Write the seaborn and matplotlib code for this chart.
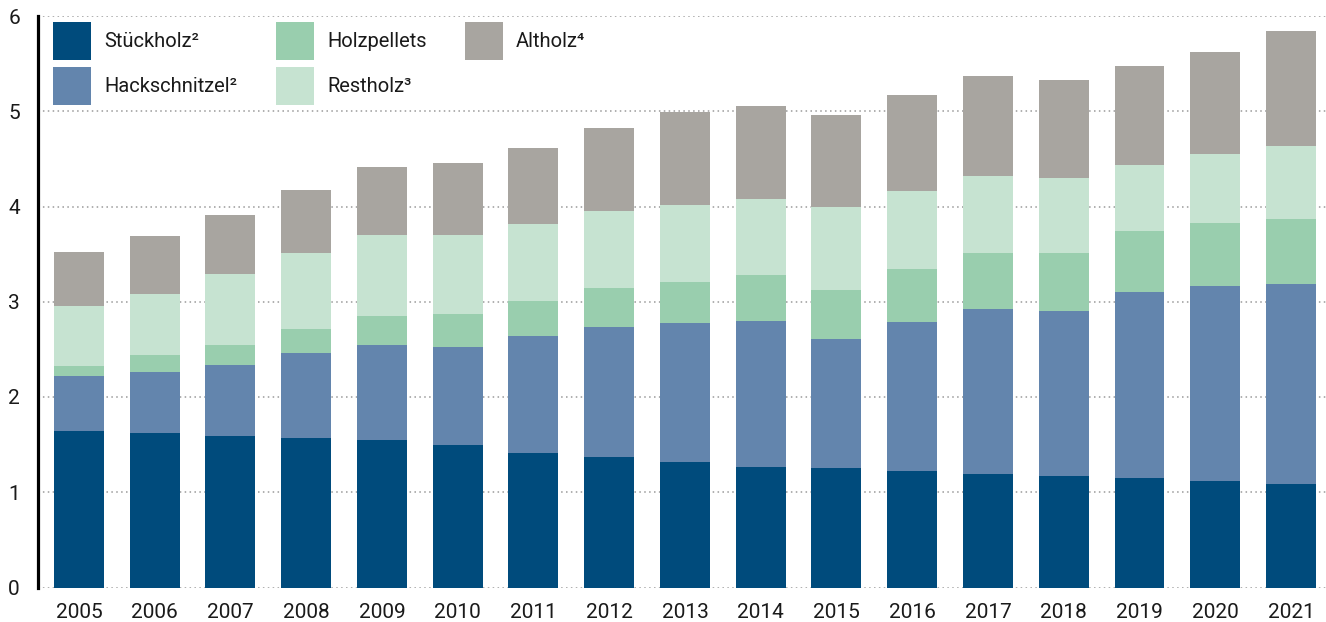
import numpy as np
import pandas as pd
import matplotlib
matplotlib.use("Agg")
import matplotlib.pyplot as plt
from matplotlib.patches import Patch
import seaborn as sns

years = [str(y) for y in range(2005, 2022)]

stueckholz = [1.64, 1.62, 1.59, 1.57, 1.55, 1.50, 1.41, 1.37, 1.32, 1.27, 1.25, 1.22, 1.19, 1.17, 1.15, 1.12, 1.09]
hackschnitzel = [0.58, 0.64, 0.75, 0.89, 1.00, 1.03, 1.23, 1.36, 1.46, 1.53, 1.36, 1.57, 1.73, 1.73, 1.95, 2.05, 2.10]
holzpellets = [0.11, 0.18, 0.21, 0.25, 0.30, 0.34, 0.37, 0.41, 0.43, 0.48, 0.51, 0.55, 0.59, 0.61, 0.64, 0.66, 0.68]
restholz = [0.63, 0.64, 0.74, 0.80, 0.85, 0.83, 0.81, 0.81, 0.81, 0.80, 0.88, 0.82, 0.81, 0.79, 0.70, 0.72, 0.76]
altholz = [0.56, 0.61, 0.62, 0.66, 0.71, 0.76, 0.79, 0.87, 0.97, 0.98, 0.96, 1.01, 1.05, 1.03, 1.04, 1.07, 1.21]

series_names = ["Stückholz²", "Hackschnitzel²", "Holzpellets", "Restholz³", "Altholz⁴"]
series_values = [stueckholz, hackschnitzel, holzpellets, restholz, altholz]
colors = ["#004B7C", "#6385AD", "#99CEAE", "#C6E3D1", "#A8A5A0"]
y_ticks = [0, 1, 2, 3, 4, 5, 6]

sns.set_theme(style="white")
plt.rcParams["font.family"] = ["Roboto", "DejaVu Sans"]
text_color = "#1a1a1a"

fig = plt.figure(figsize=(13.26, 6.22), dpi=100)
ax = fig.add_axes([38 / 1326, 34.5 / 622, 1288 / 1326, 571.5 / 622])

# Stacked bars: draw cumulative totals from the top layer down so each
# lower layer covers the part of the taller bar beneath it.
cumulative = np.cumsum(np.array(series_values), axis=0)
df = pd.DataFrame({"Jahr": years})
for i in reversed(range(len(series_names))):
    df["wert"] = cumulative[i]
    sns.barplot(data=df, x="Jahr", y="wert", color=colors[i], width=0.66,
                saturation=1, ax=ax, zorder=2, linewidth=0, edgecolor="none")

ax.set_xlim(-0.541, 16.462)
ax.set_ylim(0, 6)
ax.set_yticks(y_ticks)
ax.set_yticklabels([str(t) for t in y_ticks])
ax.set_xlabel("")
ax.set_ylabel("")

ax.set_axisbelow(True)
ax.yaxis.grid(True, color="#9a9a9a", linestyle=(0, (1, 2.2)), linewidth=1.1, zorder=0)
ax.xaxis.grid(False)

for side in ["top", "right", "bottom"]:
    ax.spines[side].set_visible(False)
ax.spines["left"].set_color("black")
ax.spines["left"].set_linewidth(2.3)
ax.spines["left"].set_zorder(5)

ax.tick_params(axis="y", length=0, pad=13, labelsize=15, labelcolor=text_color)
ax.tick_params(axis="x", length=0, pad=11.5, labelsize=15, labelcolor=text_color)

# Square legend swatches in three columns
handles = [Patch(facecolor=c, edgecolor="none") for c in colors]
leg = ax.legend(handles, series_names, ncol=3, loc="upper left",
                bbox_to_anchor=(15 / 1288, 1 - 6 / 571.5), frameon=False,
                borderpad=0, borderaxespad=0, fontsize=14.5,
                handlelength=1.9, handleheight=2.53, handletextpad=0.65,
                labelspacing=0.35, columnspacing=1.9)
for t in leg.get_texts():
    t.set_color(text_color)

fig.savefig("out.png", dpi=100)
